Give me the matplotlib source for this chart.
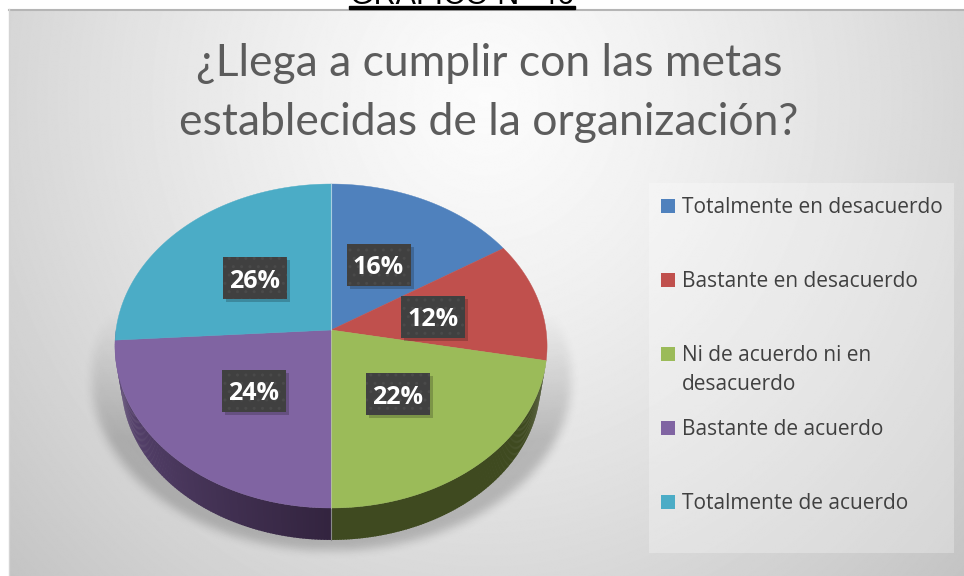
"""Pie chart: metas de la organizacion."""

import numpy as np
import matplotlib
matplotlib.use('Agg')
import matplotlib.pyplot as plt
from matplotlib.patches import Polygon, Rectangle

# --- data

categories = ['Totalmente en desacuerdo', 'Bastante en desacuerdo',
              'Ni de acuerdo ni en\ndesacuerdo', 'Bastante de acuerdo',
              'Totalmente de acuerdo']
values = [16, 12, 22, 24, 26]
colors = ['#4f81bd', '#c0504d', '#9bbb59', '#8064a2', '#4bacc6']
title = '¿Llega a cumplir con las metas\nestablecidas de la organización?'
caption = 'GRÁFICO N° 46'

# --- layout (pixels)

W, H = 964, 576
cx, cy = 331, 330
rx, ry, persp = 215, 160.4, 0.0988
side_scale, side_drop = 0.97, 37.3
label_xy = [(378.5, 265), (433, 316.5), (398, 394), (254, 390.5), (255, 278)]
legend_y = [205, 279, 353, 427, 501]


def project(theta, scale=1.0, drop=0.0):
    # theta clockwise from top, in degrees; tilted disc with a bit of perspective
    t = np.radians(theta)
    d = 1 - persp * (-np.cos(t))
    return (cx + scale * rx * np.sin(t) / d,
            cy + drop + scale * ry * (-np.cos(t)) / d)


def blur(a, n, passes=3):
    k = np.ones(n) / n
    for _ in range(passes):
        a = np.apply_along_axis(lambda r: np.convolve(r, k, mode='same'), 0, a)
        a = np.apply_along_axis(lambda r: np.convolve(r, k, mode='same'), 1, a)
    return a


fig = plt.figure(figsize=(W / 100, H / 100), dpi=100, facecolor='white')
ax = fig.add_axes([0, 0, 1, 1])
ax.axis('off')

# --- background

yy, xx = np.mgrid[0:H, 0:W]
dist = np.hypot((xx - 480) / 520, (yy - 90) / 560)
bg = np.clip(0.985 - 0.16 * dist ** 1.3, 0, 1)
ax.imshow(bg, cmap='gray', vmin=0, vmax=1, extent=(9, 964, 576, 10),
          aspect='auto', zorder=0)
ax.plot([9, 964], [9.5, 9.5], color='#b5b5b5', lw=1.5, zorder=1)
ax.plot([8.5, 8.5], [9, 576], color='#d4d4d4', lw=1, zorder=1)

# caption cut off at the top of the page
ax.text(462, 4, caption, ha='center', va='baseline', fontsize=22,
        family='Liberation Sans', color='black', zorder=1)
ax.add_patch(Rectangle((349, 6), 226, 2.7, color='black', zorder=2))

# --- shadow under the pie

shadow = ((xx - cx) / 240.0) ** 2 + ((yy - 378) / 172.0) ** 2 < 1
shadow = blur(shadow.astype(float), 9)
rgba = np.zeros((H, W, 4))
rgba[..., 3] = 0.2 * shadow * np.clip((yy - 310) / 130.0, 0, 1)
ax.imshow(rgba, extent=(0, W, H, 0), aspect='auto', zorder=2)
ax.set_xlim(0, W)
ax.set_ylim(H, 0)

# --- pie

edges = np.concatenate([[0], np.cumsum(values)]) / np.sum(values) * 360

# side wall, only the green and purple wedges show it
sides = [(edges[2], edges[3], '#3f4a20', '#3f4a20'),
         (edges[3], 270, '#33243f', '#634d7e')]
for a, b, c0, c1 in sides:
    th = np.linspace(a, b, 120)
    for t0, t1, f in zip(th[:-1], th[1:], np.linspace(0, 1, 119)):
        tt = np.array([t0, t1 + 0.3])
        x0, y0 = project(tt)
        x1, y1 = project(tt[::-1], side_scale, side_drop)
        col = np.array(matplotlib.colors.to_rgb(c0)) * (1 - f) + \
            np.array(matplotlib.colors.to_rgb(c1)) * f
        ax.add_patch(Polygon(np.c_[np.r_[x0, x1], np.r_[y0, y1]], color=col,
                             lw=0, zorder=3))

for a, b, c in zip(edges[:-1], edges[1:], colors):
    th = np.linspace(a, b, 200)
    x, y = project(th)
    ax.fill(np.r_[cx, x], np.r_[cy, y], color=c, lw=0.3, zorder=4)

# thin light seam at the top and bottom of the pie
ax.plot([cx, cx], [184, cy], color='#a9cfe0', lw=0.8, zorder=5)
ax.plot([cx, cx], [508, 540], color='#8a8a8a', lw=0.8, zorder=5)
ax.plot([cx, cx], [cy, 508], color='#c0c8b0', lw=0.5, zorder=5)

# --- data labels

for v, (lx, ly) in zip(values, label_xy):
    ax.add_patch(Rectangle((lx - 29, ly - 18), 64, 42, color='black', alpha=0.2,
                           lw=0, zorder=6))
    ax.add_patch(Rectangle((lx - 32, ly - 21), 64, 42, facecolor='#404040',
                           edgecolor='#4a4a4a', hatch='..', lw=0, zorder=7))
    ax.text(lx, ly + 3, f'{v}%', ha='center', va='center', color='white',
            fontsize=18, family='Open Sans', fontweight='bold', zorder=8)

# --- title

ax.text(489, 93, title, ha='center', va='center', color='#5c5c5c', fontsize=32,
        family='Lato', linespacing=1.53, zorder=5)

# --- legend

ax.add_patch(Rectangle((649, 183), 305, 370, color='white', alpha=0.28, lw=0, zorder=1))
for name, c, ly in zip(categories, colors, legend_y):
    ax.add_patch(Rectangle((661, ly - 6), 14, 14, color=c, lw=0, zorder=5))
    ax.text(681.5, ly - 8, name, ha='left', va='top', color='#404040', fontsize=15,
            family='Open Sans', linespacing=1.5, zorder=5)

fig.savefig('out.png', dpi=100)
